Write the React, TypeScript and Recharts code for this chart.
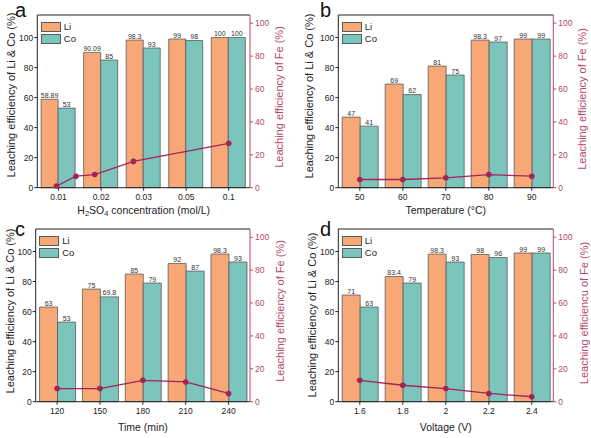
import React from "react";
import {
  ComposedChart,
  Bar,
  Scatter,
  XAxis,
  YAxis,
  Legend,
  LabelList,
  ReferenceLine,
} from "recharts";

const FONT = "'Liberation Sans', Arial, sans-serif";
const LI_COLOR = "#F7A876";
const CO_COLOR = "#7CC5BD";
const EDGE = "#5c5c5c";
const FE_COLOR = "#A3245A";
const FE_AXIS = "#B5476F";
const INK = "#222";

// (a) H2SO4 concentration
const acidCats = ["0.01", "0.02", "0.03", "0.05", "0.1"];
const acidLi = [58.89, 90.09, 98.3, 99, 100];
const acidCo = [53, 85, 93, 98, 100];
const acidFePos = [0.95, 1.41, 1.85, 2.76, 5];
const acidFe = [1, 7, 8, 16, 27];

// (b) temperature
const tempCats = ["50", "60", "70", "80", "90"];
const tempLi = [47, 69, 81, 98.3, 99];
const tempCo = [41, 62, 75, 97, 99];
const tempFe = [5, 5, 6, 8, 7];

// (c) time
const timeCats = ["120", "150", "180", "210", "240"];
const timeLi = [63, 75, 85, 92, 98.3];
const timeCo = [53, 69.8, 79, 87, 93];
const timeFe = [8, 8, 13, 12, 5];

// (d) voltage
const voltCats = ["1.6", "1.8", "2", "2.2", "2.4"];
const voltLi = [71, 83.4, 98.3, 98, 99];
const voltCo = [63, 79, 93, 96, 99];
const voltFe = [13, 10, 8, 5, 3];

const centerPos = [1, 2, 3, 4, 5];
const leftTicks = [0, 20, 40, 60, 80, 100];
const rightTicks = [0, 20, 40, 60, 80, 100];
const legendOrder = ["Li", "Co"];

const LegendBox = ({ payload }: any) => {
  const items = (payload || [])
    .filter((p: any) => legendOrder.includes(p.value))
    .sort((a: any, b: any) => legendOrder.indexOf(a.value) - legendOrder.indexOf(b.value));
  return (
    <div style={{ fontFamily: FONT, fontSize: 9.5, color: INK }}>
      {items.map((p: any) => (
        <div key={p.value} style={{ display: "flex", alignItems: "center", height: 11.7 }}>
          <span
            style={{
              width: 20,
              height: 10,
              background: p.color,
              border: `0.8px solid ${EDGE}`,
              boxSizing: "border-box",
              marginRight: 3,
            }}
          />
          {p.value}
        </div>
      ))}
    </div>
  );
};

const FeDot = (p: any) => <circle cx={p.cx} cy={p.cy} r={2.8} fill={FE_COLOR} />;

const ValueLabel = (p: any) => (
  <text
    x={p.x + p.width / 2}
    y={p.y - 1.5}
    fontSize={7}
    fill="#333"
    textAnchor="middle"
    fontFamily={FONT}
  >
    {p.value}
  </text>
);

interface PanelProps {
  x: number;
  y: number;
  w: number;
  h: number;
  plot: [number, number, number, number]; // left, top, right, bottom (local)
  cats: string[];
  li: number[];
  co: number[];
  fePos: number[];
  fe: number[];
  letter: string;
  letterAt: [number, number];
  xTitle: React.ReactNode;
  xTitleY: number;
  leftTitleAt: [number, number];
  rightTitle: string;
  rightTitleAt: [number, number];
}

const Panel: React.FC<PanelProps> = (props) => {
  const [pl, pt, pr, pb] = props.plot;
  const rows = props.cats.map((cat, i) => ({ cat, li: props.li[i], co: props.co[i] }));
  const feRows = props.fePos.map((x, i) => ({ x, fe: props.fe[i] }));
  const [lx, ly] = props.leftTitleAt;
  const [rx, ry] = props.rightTitleAt;

  return (
    <div style={{ position: "absolute", left: props.x, top: props.y, width: props.w, height: props.h }}>
      <ComposedChart
        width={props.w}
        height={props.h}
        data={rows}
        margin={{ top: pt, right: 0, bottom: 0, left: 0 }}
        barCategoryGap="9%"
        barGap={0}
      >
        <XAxis
          xAxisId="cat"
          dataKey="cat"
          height={props.h - pb}
          interval={0}
          tickSize={3}
          tickMargin={3}
          stroke={INK}
          tick={{ fontSize: 8.5, fill: INK, fontFamily: FONT }}
        />
        <XAxis xAxisId="num" dataKey="x" type="number" domain={[0.5, 5.5]} allowDataOverflow hide />
        <YAxis
          yAxisId="left"
          width={pl}
          domain={[0, 115]}
          ticks={leftTicks}
          tickSize={3}
          tickMargin={1}
          stroke={INK}
          tick={{ fontSize: 8.5, fill: INK, fontFamily: FONT }}
        />
        <YAxis
          yAxisId="right"
          orientation="right"
          dataKey="fe"
          width={props.w - pr}
          domain={[0, 105]}
          ticks={rightTicks}
          tickSize={3}
          tickMargin={2}
          stroke={FE_AXIS}
          tick={{ fontSize: 8.5, fill: FE_AXIS, fontFamily: FONT }}
        />
        <ReferenceLine xAxisId="cat" yAxisId="left" y={115} stroke={INK} strokeWidth={1} />
        <Legend
          layout="vertical"
          align="center"
          verticalAlign="middle"
          content={<LegendBox />}
          wrapperStyle={{ left: pl + 3.5, top: pt + 6, width: "auto", height: "auto" }}
        />
        <Bar
          xAxisId="cat"
          yAxisId="left"
          dataKey="li"
          name="Li"
          fill={LI_COLOR}
          stroke={EDGE}
          strokeWidth={0.8}
          isAnimationActive={false}
        >
          <LabelList dataKey="li" content={<ValueLabel />} />
        </Bar>
        <Bar
          xAxisId="cat"
          yAxisId="left"
          dataKey="co"
          name="Co"
          fill={CO_COLOR}
          stroke={EDGE}
          strokeWidth={0.8}
          isAnimationActive={false}
        >
          <LabelList dataKey="co" content={<ValueLabel />} />
        </Bar>
        <Scatter
          xAxisId="num"
          yAxisId="right"
          data={feRows}
          name="Fe"
          fill={FE_COLOR}
          line={{ stroke: FE_COLOR, strokeWidth: 1.3 }}
          shape={FeDot}
          legendType="none"
          isAnimationActive={false}
        />
      </ComposedChart>
      <svg
        width={props.w}
        height={props.h}
        style={{
          position: "absolute",
          left: 0,
          top: 0,
          overflow: "visible",
          pointerEvents: "none",
          fontFamily: FONT,
        }}
      >
        <text x={props.letterAt[0]} y={props.letterAt[1]} fontSize={20} fill="#111">
          {props.letter}
        </text>
        <text x={(pl + pr) / 2} y={props.xTitleY + 3.6} fontSize={10.5} fill={INK} textAnchor="middle">
          {props.xTitle}
        </text>
        <text
          x={lx}
          y={ly}
          transform={`rotate(-90 ${lx} ${ly})`}
          fontSize={11}
          fill={INK}
          textAnchor="middle"
          dominantBaseline="central"
        >
          Leaching efficiency of Li &amp; Co (%)
        </text>
        <text
          x={rx}
          y={ry}
          transform={`rotate(-90 ${rx} ${ry})`}
          fontSize={11}
          fill={FE_AXIS}
          textAnchor="middle"
          dominantBaseline="central"
        >
          {props.rightTitle}
        </text>
      </svg>
    </div>
  );
};

const acidTitle = (
  <>
    H<tspan dy={2.5} fontSize={7.5}>2</tspan>
    <tspan dy={-2.5}>SO</tspan>
    <tspan dy={2.5} fontSize={7.5}>4</tspan>
    <tspan dy={-2.5}> concentration (mol/L)</tspan>
  </>
);

export default function App() {
  return (
    <div style={{ position: "absolute", left: 0, top: 0, width: 591, height: 438, background: "#fff" }}>
      <Panel
        x={0}
        y={0}
        w={295}
        h={215}
        plot={[37.3, 15, 250, 187.7]}
        cats={acidCats}
        li={acidLi}
        co={acidCo}
        fePos={acidFePos}
        fe={acidFe}
        letter="a"
        letterAt={[15, 16.7]}
        xTitle={acidTitle}
        xTitleY={210}
        leftTitleAt={[10.5, 95]}
        rightTitle="Leaching efficiency of Fe (%)"
        rightTitleAt={[279, 97]}
      />
      <Panel
        x={290}
        y={0}
        w={301}
        h={215}
        plot={[48.3, 15, 263.3, 187.7]}
        cats={tempCats}
        li={tempLi}
        co={tempCo}
        fePos={centerPos}
        fe={tempFe}
        letter="b"
        letterAt={[30, 16.7]}
        xTitle="Temperature (°C)"
        xTitleY={210}
        leftTitleAt={[18.5, 96]}
        rightTitle="Leaching efficiency of Fe (%)"
        rightTitleAt={[291.5, 99]}
      />
      <Panel
        x={0}
        y={215}
        w={295}
        h={223}
        plot={[35.7, 14, 250, 186.7]}
        cats={timeCats}
        li={timeLi}
        co={timeCo}
        fePos={centerPos}
        fe={timeFe}
        letter="c"
        letterAt={[15, 21]}
        xTitle="Time (min)"
        xTitleY={212}
        leftTitleAt={[9.5, 96]}
        rightTitle="Leaching efficiency of Fe (%)"
        rightTitleAt={[280, 96]}
      />
      <Panel
        x={290}
        y={215}
        w={301}
        h={223}
        plot={[48.3, 14, 263.3, 186.7]}
        cats={voltCats}
        li={voltLi}
        co={voltCo}
        fePos={centerPos}
        fe={voltFe}
        letter="d"
        letterAt={[30, 21]}
        xTitle="Voltage (V)"
        xTitleY={212}
        leftTitleAt={[21.5, 100]}
        rightTitle="Leaching efficiencu of  Fe (%)"
        rightTitleAt={[294, 98]}
      />
    </div>
  );
}
